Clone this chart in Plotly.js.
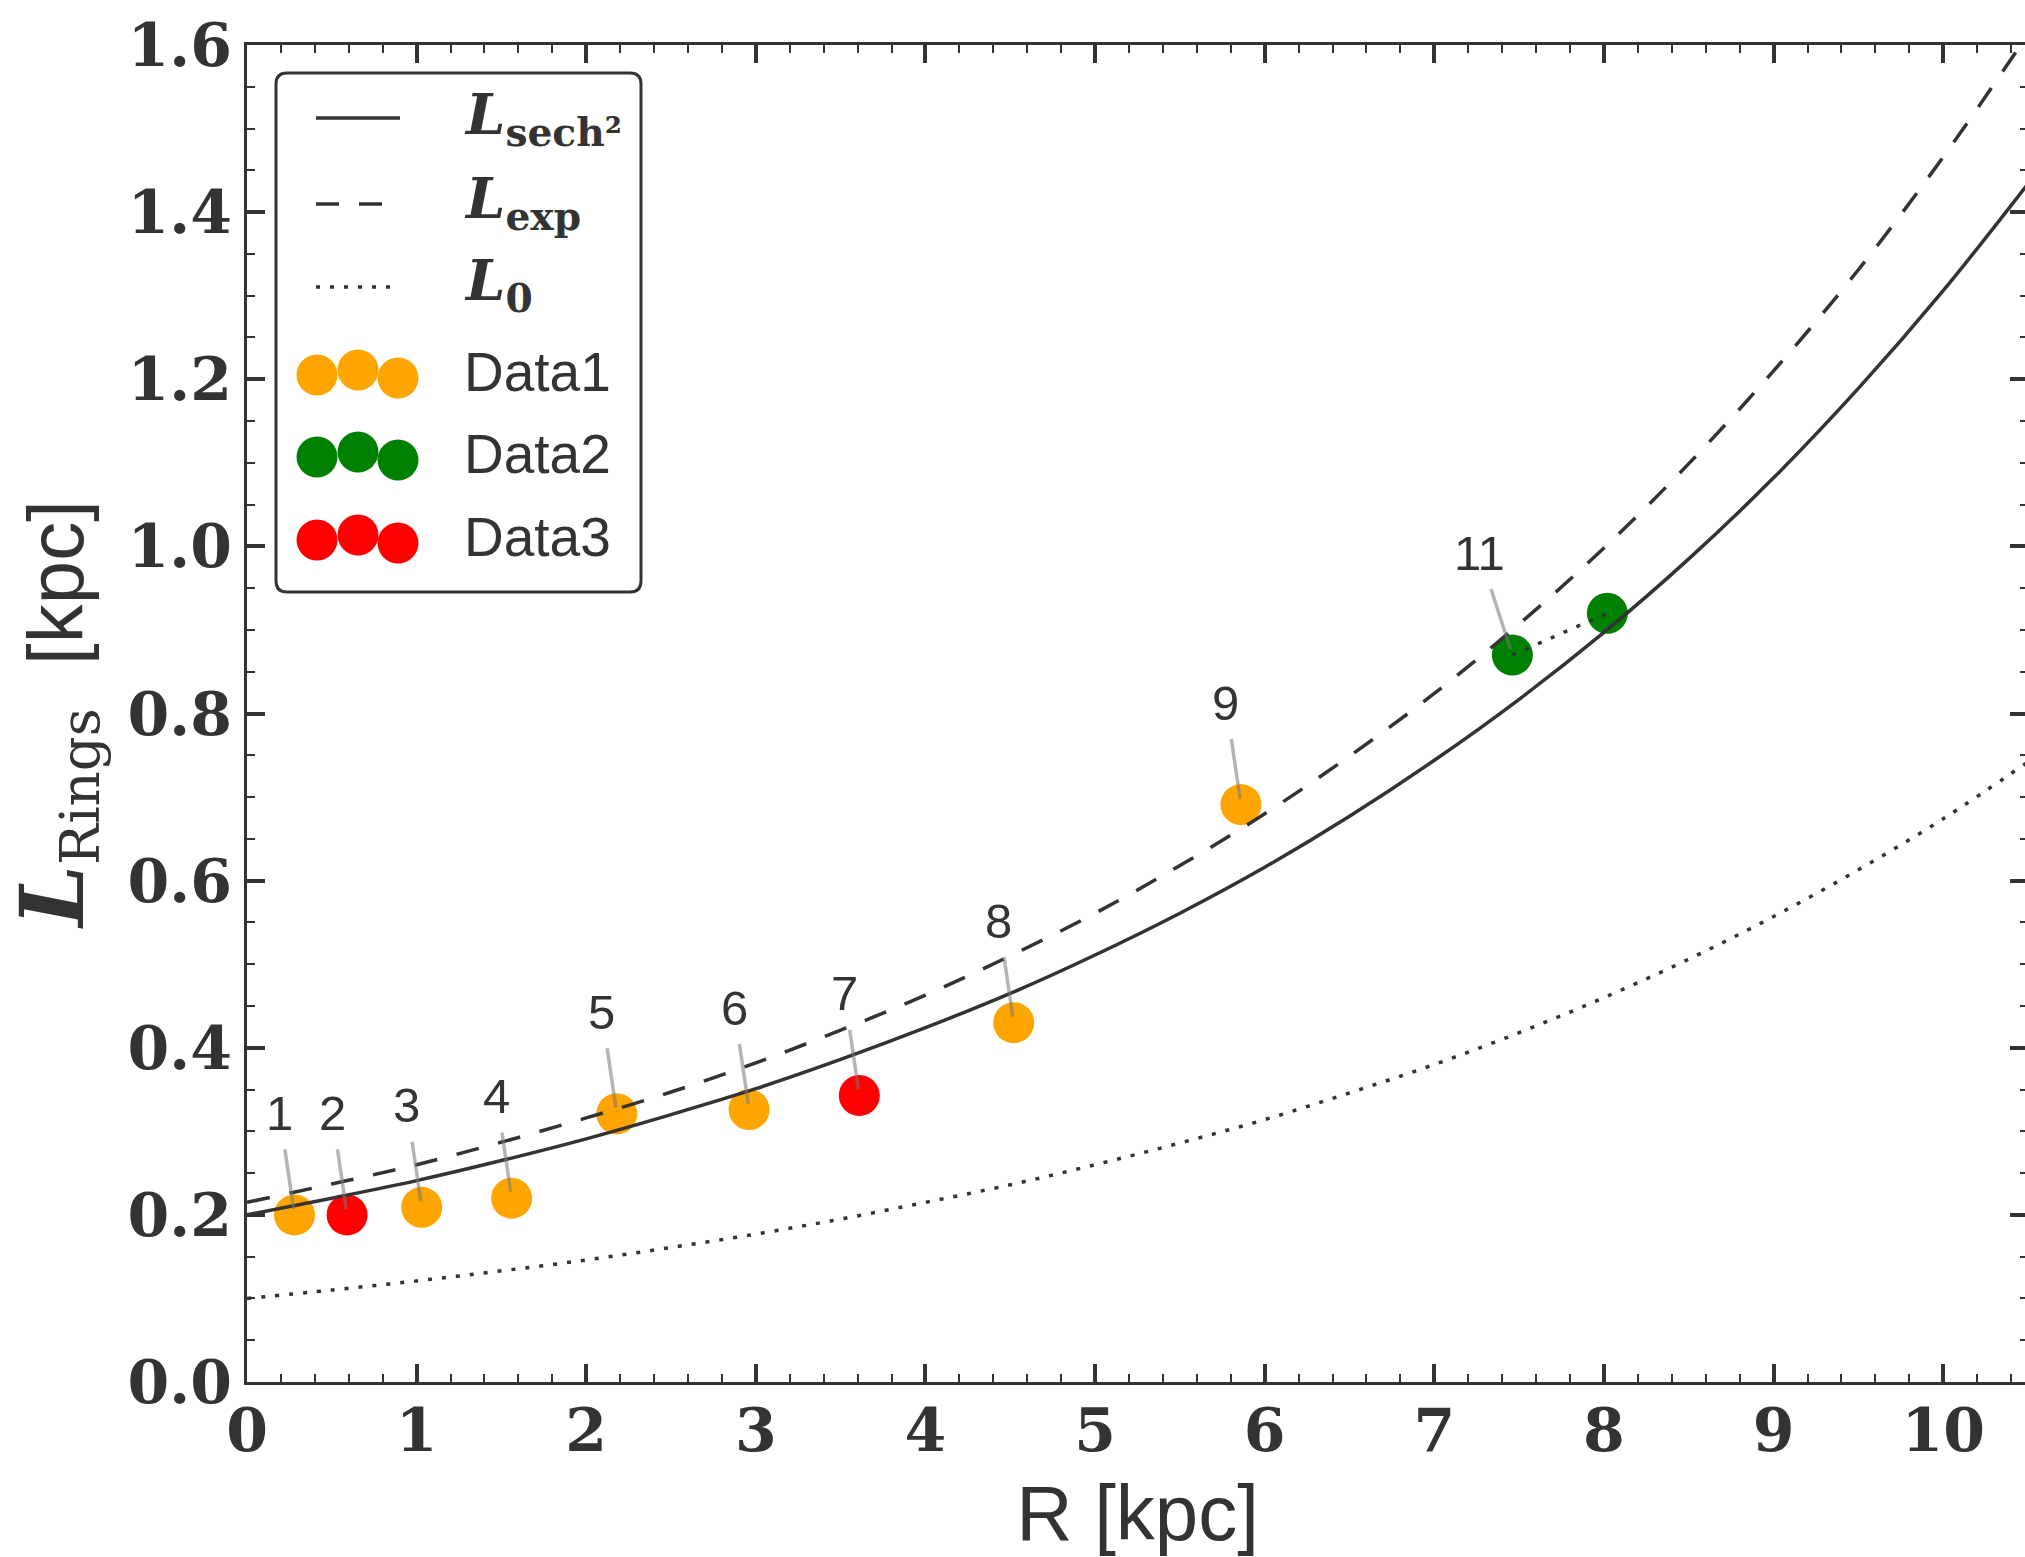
<!DOCTYPE html>
<html>
<head>
<meta charset="utf-8">
<script src="https://cdn.plot.ly/plotly-3.0.1.min.js"></script>
<style>
html, body { margin: 0; padding: 0; overflow: hidden; background: #fff; }
#chart { width: 2028px; height: 1557px; }
</style>
</head>
<body>
<div id="chart"></div>
<script>
// ---- data ----
const R_grid  = [0, 0.5, 1, 1.5, 2, 2.5, 3, 3.5, 4, 4.5, 5, 5.5, 6, 6.5, 7, 7.5, 8, 8.5, 9, 9.5, 10, 10.5];
const L_sech2 = [0.200, 0.220, 0.241, 0.265, 0.291, 0.320, 0.351, 0.386, 0.424, 0.465, 0.511, 0.561, 0.616, 0.677, 0.744, 0.817, 0.897, 0.985, 1.082, 1.189, 1.306, 1.434];
const L_exp   = [0.215, 0.237, 0.260, 0.287, 0.316, 0.347, 0.382, 0.421, 0.463, 0.510, 0.561, 0.618, 0.680, 0.749, 0.824, 0.907, 0.998, 1.099, 1.210, 1.331, 1.466, 1.613];
const L_0     = [0.100, 0.110, 0.121, 0.133, 0.146, 0.161, 0.177, 0.195, 0.215, 0.236, 0.260, 0.286, 0.314, 0.346, 0.380, 0.418, 0.460, 0.506, 0.557, 0.613, 0.674, 0.742];

const data1_R = [0.28, 1.03, 1.56, 2.18, 2.96, 4.52, 5.86];
const data1_L = [0.200, 0.209, 0.220, 0.321, 0.326, 0.430, 0.691];
const data1_labels = ['1', '3', '4', '5', '6', '8', '9'];

const data2_R = [7.46, 8.02];
const data2_L = [0.870, 0.920];
const data2_labels = ['11', ''];

const data3_R = [0.59, 3.61];
const data3_L = [0.200, 0.343];
const data3_labels = ['2', '7'];

const xTickVals = [0, 1, 2, 3, 4, 5, 6, 7, 8, 9, 10];
const yTickVals = [0.0, 0.2, 0.4, 0.6, 0.8, 1.0, 1.2, 1.4, 1.6];

// ---- styling ----
const INK = '#333333';
const DASH = '23px,20px';
const DOT = '4px,10px';
const COLORS = { d1: '#FFA500', d2: '#008000', d3: '#FF0000' };
const MSIZE = 41;
const LW = 3.5;

const series = [
  { R: data1_R, L: data1_L, labels: data1_labels, color: COLORS.d1, name: 'Data1' },
  { R: data2_R, L: data2_L, labels: data2_labels, color: COLORS.d2, name: 'Data2' },
  { R: data3_R, L: data3_L, labels: data3_labels, color: COLORS.d3, name: 'Data3' }
];

const traces = [];
series.forEach(s => {
  traces.push({
    x: s.R, y: s.L, type: 'scatter', mode: 'markers', name: s.name,
    marker: { color: s.color, size: MSIZE, line: { width: 0 } },
    cliponaxis: false, hoverinfo: 'x+y'
  });
});
traces.push({ x: R_grid, y: L_sech2, type: 'scatter', mode: 'lines', name: 'L_sech2',
  line: { color: INK, width: LW, shape: 'spline', smoothing: 1 } });
traces.push({ x: R_grid, y: L_exp, type: 'scatter', mode: 'lines', name: 'L_exp',
  line: { color: INK, width: LW, dash: DASH, shape: 'spline', smoothing: 1 } });
traces.push({ x: R_grid, y: L_0, type: 'scatter', mode: 'lines', name: 'L_0',
  line: { color: INK, width: LW, dash: DOT, shape: 'spline', smoothing: 1 } });
// dotted link between the Data2 points
traces.push({ x: data2_R, y: data2_L, type: 'scatter', mode: 'lines', name: 'Data2 link',
  line: { color: INK, width: LW, dash: DOT }, hoverinfo: 'skip' });

// ---- point labels with connector lines ----
const annotations = [];
series.forEach(s => {
  s.R.forEach((r, i) => {
    const lab = s.labels[i];
    if (!lab) return;
    const extra = lab.length - 1;
    annotations.push({
      x: r, y: s.L[i], xref: 'x', yref: 'y', text: lab,
      showarrow: true, arrowhead: 0, arrowwidth: 3.5, arrowcolor: 'rgba(120,120,120,0.55)',
      ax: -15 - extra * 18, ay: -102, axref: 'pixel', ayref: 'pixel',
      standoff: 6, startstandoff: 9, borderpad: 0,
      font: { family: 'Liberation Sans, Arial, sans-serif', size: 49, color: INK }
    });
  });
});

// ---- custom legend (pixel positions converted to paper coords) ----
const W = 2028, H = 1557, ML = 247, MR = 0, MT = 45, MB = 175;
const PW = W - ML - MR, PH = H - MT - MB;
const px = X => (X - ML) / PW;
const py = Y => (H - MB - Y) / PH;

const shapes = [];
(function legendBox() {
  const x0 = 276, x1 = 641, y0 = 73, y1 = 592, r = 11;
  const P = (X, Y) => px(X) + ',' + py(Y);
  const path = 'M' + P(x0 + r, y0) + ' L' + P(x1 - r, y0) + ' Q' + P(x1, y0) + ' ' + P(x1, y0 + r) +
    ' L' + P(x1, y1 - r) + ' Q' + P(x1, y1) + ' ' + P(x1 - r, y1) +
    ' L' + P(x0 + r, y1) + ' Q' + P(x0, y1) + ' ' + P(x0, y1 - r) +
    ' L' + P(x0, y0 + r) + ' Q' + P(x0, y0) + ' ' + P(x0 + r, y0) + ' Z';
  shapes.push({ type: 'path', xref: 'paper', yref: 'paper', path: path,
    fillcolor: 'rgba(255,255,255,0.9)', line: { color: INK, width: 3 }, layer: 'above' });
})();
const legendLines = [
  { y: 118, dash: 'solid', text: '<span style="font-family:\'DejaVu Serif\'"><b><i>L</i></b><sub><b>sech²</b></sub></span>', ty: 118 },
  { y: 204, dash: DASH, text: '<span style="font-family:\'DejaVu Serif\'"><b><i>L</i></b><sub><b>exp</b></sub></span>', ty: 202 },
  { y: 287, dash: DOT, text: '<span style="font-family:\'DejaVu Serif\'"><b><i>L</i></b><sub><b>0</b></sub></span>', ty: 284 }
];
legendLines.forEach(l => {
  shapes.push({ type: 'line', xref: 'paper', yref: 'paper', x0: px(316), x1: px(400), y0: py(l.y), y1: py(l.y),
    line: { color: INK, width: LW, dash: l.dash }, layer: 'above' });
  annotations.push({ xref: 'paper', yref: 'paper', x: px(462), y: py(l.ty), xanchor: 'left', yanchor: 'middle',
    showarrow: false, text: l.text, font: { size: 56, color: INK } });
});
const legendDots = [
  { color: COLORS.d1, name: 'Data1', cy: 374 },
  { color: COLORS.d2, name: 'Data2', cy: 456 },
  { color: COLORS.d3, name: 'Data3', cy: 539 }
];
const dotDX = [317, 358, 398], dotDY = [1, -4, 4];
legendDots.forEach(d => {
  dotDX.forEach((cx, k) => {
    shapes.push({ type: 'circle', xref: 'paper', yref: 'paper',
      xsizemode: 'pixel', ysizemode: 'pixel', xanchor: px(cx), yanchor: py(d.cy + dotDY[k]),
      x0: -20.5, x1: 20.5, y0: -20.5, y1: 20.5,
      fillcolor: d.color, line: { width: 0 }, layer: 'above' });
  });
  annotations.push({ xref: 'paper', yref: 'paper', x: px(462), y: py(d.cy - 2), xanchor: 'left', yanchor: 'middle',
    showarrow: false, text: d.name, font: { family: 'Liberation Sans, Arial, sans-serif', size: 55, color: INK } });
});

const tickFont = { family: 'DejaVu Serif, serif', size: 60, weight: 'bold', color: INK };
const axisCommon = {
  ticks: 'inside', ticklen: 18, tickwidth: 4, tickcolor: INK,
  showline: true, linewidth: 3, linecolor: INK, mirror: 'ticks',
  showgrid: false, zeroline: false, automargin: false, tickfont: tickFont
};

const layout = {
  width: W, height: H,
  margin: { l: ML, r: MR, t: MT, b: MB },
  paper_bgcolor: '#ffffff', plot_bgcolor: '#ffffff',
  showlegend: false,
  font: { family: 'Liberation Sans, Arial, sans-serif', color: INK },
  xaxis: Object.assign({}, axisCommon, {
    range: [0, 10.5], tickmode: 'array', tickvals: xTickVals, ticktext: xTickVals.map(String),
    minor: { dtick: 0.2, tick0: 0, ticks: 'inside', ticklen: 8, tickwidth: 2, tickcolor: INK },
    ticklabelstandoff: -6,
    title: { text: 'R [kpc]', font: { size: 78, color: INK }, standoff: 34 }
  }),
  yaxis: Object.assign({}, axisCommon, {
    range: [0, 1.6], tickmode: 'array', tickvals: yTickVals, ticktext: yTickVals.map(v => v.toFixed(1)),
    minor: { dtick: 0.05, tick0: 0, ticks: 'inside', ticklen: 8, tickwidth: 2, tickcolor: INK },
    ticklabelstandoff: 0,
    title: {
      text: '<span style="font-family:\'DejaVu Serif\';font-size:88px;font-weight:bold;font-style:italic">L</span>' +
            '<span style="font-family:\'DejaVu Serif\'"><sub>Rings</sub></span>\u00a0\u00a0[kpc]',
      font: { size: 78, color: INK }, standoff: 52
    }
  }),
  shapes: shapes,
  annotations: annotations
};

Plotly.newPlot('chart', traces, layout, { staticPlot: true, displayModeBar: false });
</script>
</body>
</html>
